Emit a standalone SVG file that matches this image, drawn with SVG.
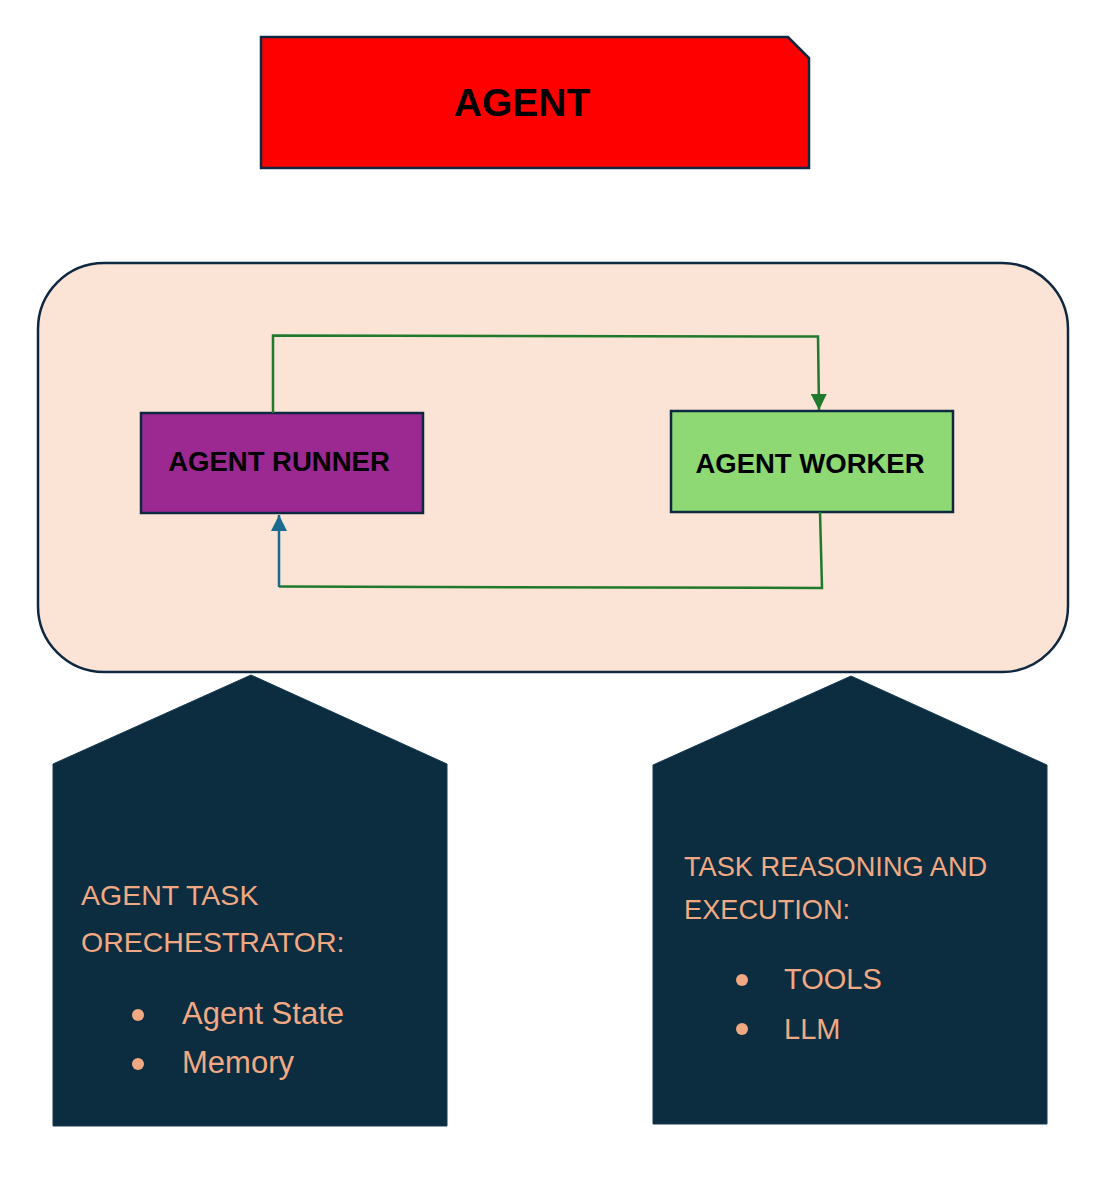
<svg xmlns="http://www.w3.org/2000/svg" width="1118" height="1180" viewBox="0 0 1118 1180">
<style>
.box{stroke:#0E2841;stroke-width:2.5}
.lbl{font-family:"Liberation Sans",Arial,sans-serif;font-weight:bold;fill:#000;text-anchor:middle}
.pent{fill:#0C2C40;stroke:#163a50;stroke-width:1}
.txt{font-family:"Liberation Sans",Arial,sans-serif;fill:#F1A983}
.dot{fill:#F1A983}
.g{fill:none;stroke:#1F7A2B;stroke-width:2.5}
.b{fill:none;stroke:#1B6A8F;stroke-width:2.5}
</style>
<defs>
<marker id="ag" viewBox="0 0 16 16" refX="16" refY="8" markerWidth="16" markerHeight="16" markerUnits="userSpaceOnUse" orient="auto">
<path d="M0,0 L16,8 L0,16 Z" fill="#1F7A2B"/>
</marker>
<marker id="ab" viewBox="0 0 16 16" refX="16" refY="8" markerWidth="16" markerHeight="16" markerUnits="userSpaceOnUse" orient="auto">
<path d="M0,0 L16,8 L0,16 Z" fill="#1B6A8F"/>
</marker>
</defs>
<rect width="1118" height="1180" fill="#ffffff"/>

<g id="agent">
<path class="box" d="M261,37 L788,37 L809,58 L809,168 L261,168 Z" fill="#FF0000"/>
<text class="lbl" x="522" y="116" font-size="39">AGENT</text>
</g>

<g id="container">
<rect class="box" x="38" y="263" width="1030" height="409" rx="66" ry="66" fill="#FBE3D6"/>
</g>

<g id="runner">
<rect class="box" x="141" y="413" width="282" height="100" fill="#9C2891"/>
<text class="lbl" x="279" y="471" font-size="27.5">AGENT RUNNER</text>
</g>

<g id="worker">
<rect class="box" x="671" y="411" width="282" height="101" fill="#8ED973"/>
<text class="lbl" x="810" y="473" font-size="27.5">AGENT WORKER</text>
</g>

<g id="connectors">
<polyline class="g" points="273,413 273,335.5 818,336.5 819,410" marker-end="url(#ag)"/>
<polyline class="g" points="820,512 822,588 279,586.5"/>
<line class="b" x1="279" y1="587" x2="279" y2="515" marker-end="url(#ab)"/>
</g>

<g id="orchestrator">
<path class="pent" d="M251,675 L447,764 L447,1126 L53,1126 L53,764 Z"/>
<text class="txt" x="81" y="905" font-size="28.5">AGENT TASK</text>
<text class="txt" x="81" y="952" font-size="28.5">ORECHESTRATOR:</text>
<circle class="dot" cx="138" cy="1015" r="6"/>
<text class="txt" x="182" y="1024" font-size="31">Agent State</text>
<circle class="dot" cx="138" cy="1064" r="6"/>
<text class="txt" x="182" y="1073" font-size="31">Memory</text>
</g>

<g id="reasoning">
<path class="pent" d="M851,676 L1047,765 L1047,1124 L653,1124 L653,765 Z"/>
<text class="txt" x="684" y="876" font-size="27.2">TASK REASONING AND</text>
<text class="txt" x="684" y="919" font-size="27.2">EXECUTION:</text>
<circle class="dot" cx="742" cy="980" r="6"/>
<text class="txt" x="784" y="989" font-size="29">TOOLS</text>
<circle class="dot" cx="742" cy="1029" r="6"/>
<text class="txt" x="784" y="1039" font-size="29">LLM</text>
</g>
</svg>
